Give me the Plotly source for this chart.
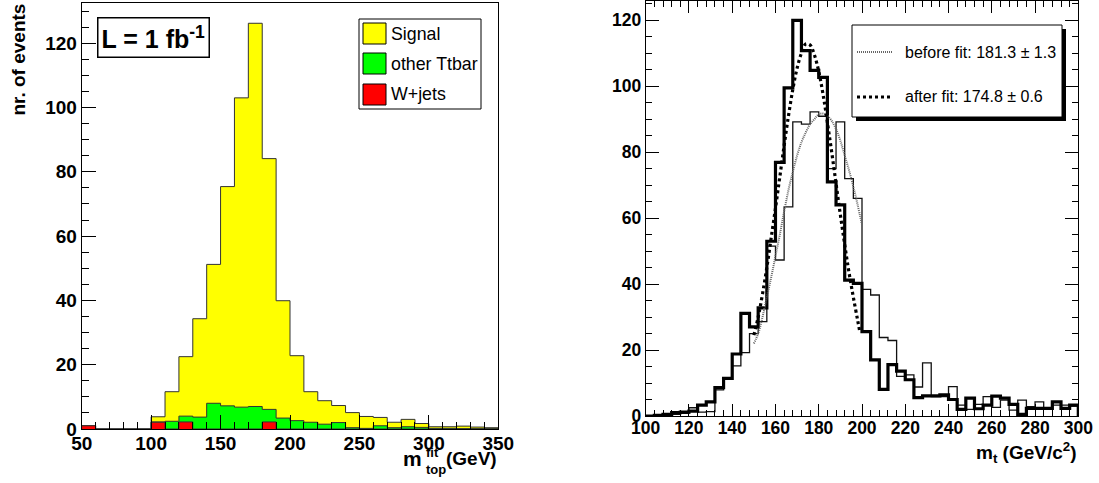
import plotly.graph_objects as go

W, H = 1099, 483

# ---------------- Left panel data (10 GeV bins, 50..350) ----------------
left_edges = list(range(50, 351, 10))
wjets = [1.0, 0, 0, 0, 0, 2.1, 0, 2.2, 0, 0, 0, 0, 0, 2.2, 0, 0, 0, 0, 0, 0,
         0, 0, 0, 0, 0, 0, 0, 0, 0, 0]
other_ttbar = [0, 0, 0, 0, 0, 0.1, 2.4, 1.8, 3.7, 8.0, 7.2, 6.8, 7.0, 3.9, 3.4, 2.6,
               2.1, 1.5, 2.0, 0.4, 0.2, 1.0, 0.4, 0.7, 0.5, 0.2, 0.2, 0.1, 0.1, 0.1]
signal = [0, 0, 0, 0, 0, 1.6, 9.2, 18.5, 30.6, 43.2, 68.2, 96.2, 119.2, 78.0, 36.5, 20.2,
          9.5, 7.3, 5.3, 4.7, 3.7, 2.6, 1.7, 2.3, 1.2, 0.5, 0.5, 0.8, 0.5, 0.3]
left_labels = ["Signal", "other Ttbar", "W+jets"]
left_colors = ["#ffff00", "#00ff00", "#ff0000"]

# ---------------- Right panel data (4 GeV bins, 100..300) ----------------
right_edges = list(range(100, 301, 4))
after_fit_hist = [0, 0.2, 0.5, 1.0, 1.2, 1.5, 3.3, 4.3, 8.6, 11.4, 18.8, 31.1, 27.0, 32.8,
                  53.0, 76.9, 99.5, 120.0, 110.8, 104.8, 102.7, 71.0, 64.0, 41.2, 40.2,
                  25.6, 17.0, 8.1, 15.6, 13.6, 11.0, 5.6, 6.1, 6.1, 6.4, 5.0, 2.0, 5.4,
                  2.2, 3.3, 6.0, 5.4, 3.5, 0.5, 2.3, 2.3, 2.3, 4.3, 2.3, 3.3]
before_fit_hist = [0, 0, 0.3, 0.5, 0.8, 2.5, 1.2, 1.3, 7.9, 11.5, 15.2, 19.2, 25.0, 28.6,
                   51.5, 47.3, 63.4, 89.2, 88.5, 92.2, 90.9, 75.0, 89.2, 72.0, 66.0,
                   38.4, 36.7, 23.8, 22.9, 12.0, 12.5, 8.8, 16.1, 5.9, 5.9, 8.9, 3.3,
                   2.0, 3.5, 5.9, 2.6, 4.8, 1.8, 4.8, 2.8, 4.3, 2.3, 3.3, 3.3, 3.0]

before_curve_x = [150, 152, 154, 156, 158, 160, 162, 164, 166, 168, 170, 172, 174,
                  176, 178, 180, 182, 184, 186, 188, 190, 192, 194, 196, 198, 200]
before_curve_y = [22, 25, 30, 36, 42, 48.5, 55, 62, 68.5, 74, 79, 83, 86, 88.5, 90,
                  91.5, 91.7, 91, 89.5, 87, 83.5, 79, 74.5, 69.5, 64, 58]
after_curve_x = [150, 152, 154, 156, 158, 160, 162, 164, 166, 168, 170, 172, 174, 176,
                 178, 180, 182, 184, 186, 188, 190, 192, 194, 196, 198, 199]
after_curve_y = [24.5, 30, 37, 45, 54, 63, 72.5, 82, 91, 99, 105.5, 110, 112.8, 112.5,
                 109.5, 104.5, 97.5, 89, 80, 70.5, 61, 52, 43.5, 36, 29, 25.5]
right_labels = ["before fit: 181.3 \u00b1 1.3", "after fit: 174.8 \u00b1 0.6"]


def step_xy(edges, vals):
    n = len(vals)
    x = [edges[0]] + edges[:n] + [edges[n], edges[n]]
    y = [0] + list(vals) + [vals[-1], 0]
    return x, y


def px(x):
    return x / W


def py(y):
    return 1 - y / H


fig = go.Figure()

# stacked cumulative sums (ROOT THStack style)
cum_low = list(wjets)
cum_mid = [a + b for a, b in zip(wjets, other_ttbar)]
cum_top = [a + b + c for a, b, c in zip(wjets, other_ttbar, signal)]
for vals, col in [(cum_top, left_colors[0]), (cum_mid, left_colors[1]), (cum_low, left_colors[2])]:
    x, y = step_xy(left_edges, vals)
    fig.add_trace(go.Scatter(x=x, y=y, mode="lines", line=dict(shape="hv", color="#333333", width=1),
                             fill="tozeroy", fillcolor=col, xaxis="x", yaxis="y",
                             showlegend=False, hoverinfo="skip"))

# right histograms
x, y = step_xy(right_edges, before_fit_hist)
fig.add_trace(go.Scatter(x=x, y=y, mode="lines", line=dict(shape="hv", color="#111111", width=1.3),
                         xaxis="x2", yaxis="y2", showlegend=False))
x, y = step_xy(right_edges, after_fit_hist)
fig.add_trace(go.Scatter(x=x, y=y, mode="lines", line=dict(shape="hv", color="black", width=3.2),
                         xaxis="x2", yaxis="y2", showlegend=False))
fig.add_trace(go.Scatter(x=before_curve_x, y=before_curve_y, mode="lines",
                         line=dict(shape="spline", color="#666666", width=2, dash="1px,1px"),
                         xaxis="x2", yaxis="y2", showlegend=False))
fig.add_trace(go.Scatter(x=after_curve_x, y=after_curve_y, mode="lines",
                         line=dict(shape="spline", color="black", width=3.2, dash="3px,3px"),
                         xaxis="x2", yaxis="y2", showlegend=False))

tickfont = dict(family="Liberation Sans", size=19, color="black", weight="bold")
tickfont_r = dict(family="Liberation Sans", size=17.5, color="black", weight="bold")

layout = dict(
    width=W, height=H, margin=dict(l=0, r=0, t=0, b=0, autoexpand=False),
    paper_bgcolor="white", plot_bgcolor="white",
    xaxis=dict(domain=[px(81.7), px(498.3)], range=[50, 350], tick0=50, dtick=50,
               ticks="inside", ticklen=14, tickcolor="black", showline=True, linecolor="black",
               linewidth=1, mirror=True, showgrid=False, zeroline=False, tickfont=tickfont,
               minor=dict(dtick=10, ticks="inside", ticklen=7, tickcolor="black"),
               ticklabelstandoff=-3, anchor="y", automargin=False),
    yaxis=dict(domain=[py(429), py(2.7)], range=[0, 132.6], dtick=20, ticks="inside",
               ticklen=14, tickcolor="black", showline=True, linecolor="black", linewidth=1,
               mirror=True, showgrid=False, zeroline=False, tickfont=tickfont,
               minor=dict(dtick=5, ticks="inside", ticklen=7, tickcolor="black"),
               anchor="x", automargin=False),
    xaxis2=dict(domain=[px(645.7), px(1078.3)], range=[100, 300], dtick=20,
                ticks="inside", ticklen=12, tickcolor="black", showline=True, linecolor="black",
                linewidth=1, mirror="ticks", showgrid=False, zeroline=False, tickfont=tickfont_r,
                minor=dict(dtick=4, ticks="inside", ticklen=6, tickcolor="black"),
                ticklabelstandoff=-4, anchor="y2", automargin=False),
    yaxis2=dict(domain=[py(416), py(0.5)], range=[0, 126.0], dtick=20, ticks="inside",
                ticklen=13, tickcolor="black", showline=True, linecolor="black", linewidth=1,
                mirror="ticks", showgrid=False, zeroline=False, tickfont=tickfont_r,
                minor=dict(dtick=5, ticks="inside", ticklen=6.5, tickcolor="black"),
                anchor="x2", automargin=False),
)
fig.update_layout(**layout)

shapes = []
annotations = []

# left legend
shapes.append(dict(type="rect", xref="paper", yref="paper", x0=px(359), x1=px(481), y0=py(109), y1=py(19),
                   line=dict(color="black", width=1), fillcolor="white", layer="above"))
box_y = [(23, 44), (53, 74), (84, 105)]
for (y0, y1), col, lab in zip(box_y, left_colors, left_labels):
    shapes.append(dict(type="rect", xref="paper", yref="paper", x0=px(363), x1=px(386), y0=py(y1), y1=py(y0),
                       line=dict(color="black", width=1), fillcolor=col, layer="above"))
    annotations.append(dict(xref="paper", yref="paper", x=px(389), y=py((y0 + y1) / 2), text=lab,
                            showarrow=False, xanchor="left", yanchor="middle",
                            font=dict(family="Liberation Sans", size=17.8, color="black")))

# luminosity box
annotations.append(dict(xref="paper", yref="paper", x=px(153.5), y=py(37.5), text="L = 1 fb<sup>-1</sup>",
                        showarrow=False, xanchor="center", yanchor="middle", bgcolor="white",
                        bordercolor="black", borderwidth=1.5, borderpad=3,
                        font=dict(family="Liberation Sans", size=25, color="black", weight="bold")))

# left y title
annotations.append(dict(xref="paper", yref="paper", x=px(18), y=py(59.5), text="nr. of events",
                        textangle=-90, showarrow=False, xanchor="center", yanchor="middle",
                        font=dict(family="Liberation Sans", size=19, color="black", weight="bold")))

# left x title (stacked super/subscript)
bf = dict(family="Liberation Sans", color="black", weight="bold")
annotations.append(dict(xref="paper", yref="paper", x=px(424), y=py(458), text="m", showarrow=False,
                        xanchor="right", yanchor="middle", font=dict(size=21, **bf)))
annotations.append(dict(xref="paper", yref="paper", x=px(424), y=py(452), text="fit", showarrow=False,
                        xanchor="left", yanchor="middle", font=dict(size=13, **bf)))
annotations.append(dict(xref="paper", yref="paper", x=px(424), y=py(469), text="top", showarrow=False,
                        xanchor="left", yanchor="middle", font=dict(size=13, **bf)))
annotations.append(dict(xref="paper", yref="paper", x=px(499), y=py(458), text="(GeV)", showarrow=False,
                        xanchor="right", yanchor="middle", font=dict(size=19, **bf)))

# right x title
annotations.append(dict(xref="paper", yref="paper", x=px(1079), y=py(452), text="m<sub>t</sub> (GeV/c<sup>2</sup>)",
                        showarrow=False, xanchor="right", yanchor="middle", font=dict(size=19, **bf)))

# right legend with shadow
shapes.append(dict(type="rect", xref="paper", yref="paper", x0=px(856), x1=px(1066), y0=py(121), y1=py(29),
                   line=dict(color="black", width=0), fillcolor="black", layer="above"))
shapes.append(dict(type="rect", xref="paper", yref="paper", x0=px(852), x1=px(1062), y0=py(117), y1=py(25),
                   line=dict(color="black", width=1), fillcolor="white", layer="above"))
shapes.append(dict(type="line", xref="paper", yref="paper", x0=px(857), x1=px(893), y0=py(52), y1=py(52),
                   line=dict(color="#666666", width=2, dash="1px,1px"), layer="above"))
shapes.append(dict(type="line", xref="paper", yref="paper", x0=px(857), x1=px(891), y0=py(97), y1=py(97),
                   line=dict(color="black", width=3.2, dash="3px,3px"), layer="above"))
for yy, lab in zip([52, 97], right_labels):
    annotations.append(dict(xref="paper", yref="paper", x=px(903), y=py(yy), text=lab, showarrow=False,
                            xanchor="left", yanchor="middle",
                            font=dict(family="Liberation Sans", size=16, color="black")))

fig.update_layout(shapes=shapes, annotations=annotations)
fig.write_html("out.html", config={"displayModeBar": False},
               post_script="document.body.style.margin='0px';document.body.style.overflow='hidden';")
